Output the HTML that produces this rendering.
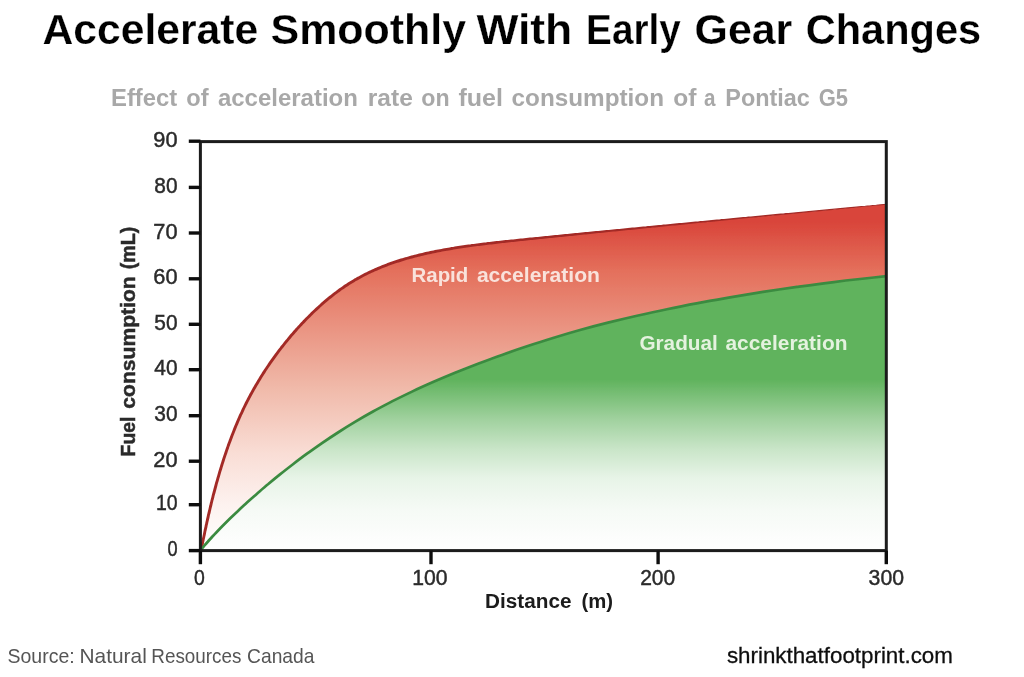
<!DOCTYPE html>
<html><head><meta charset="utf-8"><title>Accelerate Smoothly With Early Gear Changes</title>
<style>
html,body{margin:0;padding:0;background:#fff;}
body{width:1024px;height:677px;overflow:hidden;font-family:"Liberation Sans",sans-serif;}
svg{display:block;}
text{font-family:"Liberation Sans",sans-serif;}
</style></head>
<body>
<svg width="1024" height="677" viewBox="0 0 1024 677">
<defs>
<linearGradient id="rg" gradientUnits="userSpaceOnUse" x1="0" y1="204" x2="0" y2="550">
<stop offset="0" stop-color="#d9453a"/>
<stop offset="0.052" stop-color="#d9453a"/>
<stop offset="0.195" stop-color="#e4705c"/>
<stop offset="0.53" stop-color="#f0b9a9"/>
<stop offset="0.72" stop-color="#f9ddd5"/>
<stop offset="0.87" stop-color="#fdf2ef"/>
<stop offset="1" stop-color="#ffffff"/>
</linearGradient>
<linearGradient id="gg" gradientUnits="userSpaceOnUse" x1="0" y1="275" x2="0" y2="550">
<stop offset="0" stop-color="#60b35d"/>
<stop offset="0.38" stop-color="#60b35d"/>
<stop offset="0.524" stop-color="#a0d19e"/>
<stop offset="0.633" stop-color="#c9e5c8"/>
<stop offset="0.738" stop-color="#e7f4e7"/>
<stop offset="0.847" stop-color="#f5faf5"/>
<stop offset="0.953" stop-color="#fcfdfc"/>
<stop offset="1" stop-color="#ffffff"/>
</linearGradient>
<filter id="soft" x="-5%" y="-5%" width="110%" height="110%"><feGaussianBlur stdDeviation="0.45"/></filter>
</defs>
<rect width="1024" height="677" fill="#ffffff"/>
<g filter="url(#soft)">
<g font-size="42.8" font-weight="bold" fill="#000" stroke="#fff" stroke-width="0.25"><text x="42.5" y="43.9" textLength="215.6" lengthAdjust="spacingAndGlyphs">Accelerate</text><text x="270.5" y="43.9" textLength="195.6" lengthAdjust="spacingAndGlyphs">Smoothly</text><text x="476.4" y="43.9" textLength="95.9" lengthAdjust="spacingAndGlyphs">With</text><text x="586.1" y="43.9" textLength="94.6" lengthAdjust="spacingAndGlyphs">Early</text><text x="694.6" y="43.9" textLength="97.7" lengthAdjust="spacingAndGlyphs">Gear</text><text x="805.7" y="43.9" textLength="175.5" lengthAdjust="spacingAndGlyphs">Changes</text></g>
<g font-size="24.0" font-weight="bold" fill="#a8a8a8"><text x="111.0" y="105.9" textLength="66.2" lengthAdjust="spacingAndGlyphs">Effect</text><text x="186.3" y="105.9" textLength="22.3" lengthAdjust="spacingAndGlyphs">of</text><text x="217.9" y="105.9" textLength="140.0" lengthAdjust="spacingAndGlyphs">acceleration</text><text x="367.8" y="105.9" textLength="45.0" lengthAdjust="spacingAndGlyphs">rate</text><text x="421.3" y="105.9" textLength="28.3" lengthAdjust="spacingAndGlyphs">on</text><text x="458.5" y="105.9" textLength="44.5" lengthAdjust="spacingAndGlyphs">fuel</text><text x="511.6" y="105.9" textLength="152.4" lengthAdjust="spacingAndGlyphs">consumption</text><text x="673.2" y="105.9" textLength="23.2" lengthAdjust="spacingAndGlyphs">of</text><text x="704.1" y="105.9" textLength="11.5" lengthAdjust="spacingAndGlyphs">a</text><text x="725.3" y="105.9" textLength="84.6" lengthAdjust="spacingAndGlyphs">Pontiac</text><text x="818.7" y="105.9" textLength="29.3" lengthAdjust="spacingAndGlyphs">G5</text></g>
<path d="M200.4 550.6 C200.8 549.7 201.1 549.0 201.5 547.8 C202.0 546.2 202.5 543.1 203.0 540.7 C203.7 537.5 204.3 534.2 205.0 531.1 C206.0 526.4 207.0 521.8 208.0 517.4 C209.3 511.5 210.7 505.8 212.0 500.4 C213.7 493.8 215.3 487.4 217.0 481.5 C219.0 474.4 221.0 467.7 223.0 461.4 C225.3 454.1 227.7 447.3 230.0 441.0 C232.7 433.7 235.3 427.0 238.0 420.9 C241.0 413.9 244.0 407.6 247.0 401.7 C250.3 395.2 253.7 389.1 257.0 383.5 C260.7 377.3 264.3 371.6 268.0 366.1 C272.0 360.2 276.0 354.7 280.0 349.5 C284.3 343.8 288.7 338.5 293.0 333.5 C297.7 328.1 302.3 323.1 307.0 318.3 C312.0 313.3 317.0 308.5 322.0 304.1 C327.3 299.5 332.7 295.0 338.0 291.2 C343.7 287.0 349.3 283.2 355.0 280.0 C361.0 276.5 367.0 273.4 373.0 270.7 C379.3 267.8 385.7 265.3 392.0 263.1 C398.7 260.7 405.3 258.7 412.0 256.9 C419.0 255.0 426.0 253.4 433.0 252.0 C440.3 250.5 447.7 249.1 455.0 248.0 C462.7 246.7 470.3 245.7 478.0 244.7 C486.0 243.6 494.0 242.7 502.0 241.8 C510.3 240.9 518.7 240.1 527.0 239.2 C535.7 238.3 544.3 237.4 553.0 236.6 C562.0 235.7 571.0 234.8 580.0 233.8 C589.3 232.9 598.7 232.0 608.0 231.1 C617.7 230.1 627.3 229.1 637.0 228.2 C647.0 227.2 657.0 226.2 667.0 225.2 C677.3 224.2 687.7 223.2 698.0 222.2 C708.7 221.2 719.3 220.1 730.0 219.1 C741.0 218.1 752.0 217.0 763.0 216.0 C774.3 214.9 785.7 213.8 797.0 212.7 C808.7 211.6 820.3 210.5 832.0 209.4 C841.3 208.5 850.7 207.6 860.0 206.8 C868.8 205.9 877.5 205.1 886.3 204.3 L886.3 550.6 L200.4 550.6 Z" fill="url(#rg)"/>
<path d="M200.4 550.6 C200.8 550.1 201.1 549.6 201.5 549.1 C202.0 548.4 202.5 547.9 203.0 547.3 C203.7 546.4 204.3 545.7 205.0 544.9 C206.0 543.7 207.0 542.6 208.0 541.5 C209.3 540.0 210.7 538.5 212.0 537.0 C213.7 535.2 215.3 533.5 217.0 531.7 C219.0 529.6 221.0 527.5 223.0 525.5 C225.3 523.2 227.7 520.8 230.0 518.5 C232.7 515.9 235.3 513.4 238.0 510.9 C241.0 508.0 244.0 505.3 247.0 502.5 C250.3 499.5 253.7 496.6 257.0 493.7 C260.7 490.5 264.3 487.3 268.0 484.3 C272.0 480.9 276.0 477.6 280.0 474.4 C284.3 470.9 288.7 467.5 293.0 464.2 C297.7 460.6 302.3 457.1 307.0 453.7 C312.0 450.1 317.0 446.6 322.0 443.1 C327.3 439.5 332.7 435.9 338.0 432.5 C343.7 428.8 349.3 425.3 355.0 421.9 C361.0 418.3 367.0 414.8 373.0 411.5 C379.3 408.0 385.7 404.7 392.0 401.4 C398.7 398.0 405.3 394.8 412.0 391.6 C419.0 388.3 426.0 385.2 433.0 382.1 C440.3 378.9 447.7 375.8 455.0 372.8 C462.7 369.7 470.3 366.7 478.0 363.7 C486.0 360.7 494.0 357.7 502.0 354.9 C510.3 351.9 518.7 349.0 527.0 346.3 C535.7 343.4 544.3 340.6 553.0 338.0 C562.0 335.2 571.0 332.5 580.0 330.0 C589.3 327.4 598.7 324.9 608.0 322.6 C617.7 320.2 627.3 317.9 637.0 315.7 C647.0 313.4 657.0 311.2 667.0 309.2 C677.3 307.0 687.7 305.0 698.0 303.1 C708.7 301.1 719.3 299.1 730.0 297.3 C741.0 295.4 752.0 293.6 763.0 291.9 C774.3 290.2 785.7 288.5 797.0 286.9 C808.7 285.3 820.3 283.7 832.0 282.3 C841.3 281.1 850.7 280.0 860.0 279.0 C868.8 278.0 877.5 277.1 886.3 276.2 L886.3 550.6 L200.4 550.6 Z" fill="url(#gg)"/>
<path d="M199.2 549.8 L199.2 549.8 L199.2 549.8 L199.2 549.8 L199.2 549.8 L199.2 549.8 L199.2 549.7 L199.3 549.7 L199.3 549.6 L199.3 549.6 L199.4 549.5 L199.4 549.4 L199.5 549.2 L199.5 549.1 L199.6 548.9 L199.7 548.7 L199.7 548.5 L199.8 548.3 L199.9 548.0 L200.0 547.7 L200.1 547.4 L200.2 547.0 L200.3 546.6 L200.4 546.1 L200.6 545.5 L200.7 544.9 L200.8 544.2 L201.0 543.4 L201.1 542.7 L201.3 541.8 L201.5 541.0 L201.6 540.2 L201.8 539.3 L202.0 538.5 L202.2 537.6 L202.4 536.7 L202.6 535.7 L202.8 534.8 L203.0 533.8 L203.2 532.8 L203.4 531.7 L203.6 530.7 L203.8 529.6 L204.1 528.5 L204.3 527.4 L204.6 526.2 L204.8 525.1 L205.1 523.9 L205.3 522.7 L205.6 521.5 L205.9 520.2 L206.1 519.0 L206.4 517.7 L206.7 516.4 L207.0 515.1 L207.3 513.8 L207.6 512.5 L207.9 511.2 L208.3 509.8 L208.6 508.4 L208.9 507.0 L209.2 505.6 L209.6 504.2 L209.9 502.8 L210.3 501.4 L210.6 499.9 L211.0 498.5 L211.4 497.0 L211.7 495.6 L212.1 494.1 L212.5 492.6 L212.9 491.1 L213.3 489.6 L213.7 488.1 L214.1 486.6 L214.5 485.1 L214.9 483.6 L215.3 482.0 L215.8 480.5 L216.2 479.0 L216.6 477.5 L217.1 475.9 L217.5 474.4 L218.0 472.8 L218.4 471.2 L218.9 469.7 L219.4 468.1 L219.9 466.6 L220.3 465.0 L220.8 463.4 L221.3 461.9 L221.8 460.3 L222.3 458.7 L222.8 457.2 L223.4 455.6 L223.9 454.0 L224.4 452.5 L224.9 450.9 L225.5 449.3 L226.0 447.7 L226.6 446.2 L227.1 444.6 L227.7 443.0 L228.3 441.5 L228.8 439.9 L229.4 438.4 L230.0 436.8 L230.6 435.3 L231.2 433.7 L231.8 432.2 L232.4 430.7 L233.0 429.1 L233.6 427.6 L234.2 426.1 L234.9 424.6 L235.5 423.0 L236.1 421.5 L236.8 420.0 L237.4 418.6 L238.1 417.1 L238.7 415.6 L239.4 414.1 L240.1 412.7 L240.8 411.2 L241.4 409.7 L242.1 408.3 L242.8 406.9 L243.5 405.4 L244.2 404.0 L244.9 402.6 L245.7 401.1 L246.4 399.7 L247.1 398.3 L247.8 396.9 L248.6 395.5 L249.3 394.1 L250.1 392.8 L250.8 391.4 L251.6 390.0 L252.4 388.6 L253.1 387.3 L253.9 385.9 L254.7 384.6 L255.5 383.2 L256.3 381.9 L257.1 380.5 L257.9 379.2 L258.7 377.9 L259.5 376.6 L260.3 375.3 L261.2 373.9 L262.0 372.6 L262.8 371.3 L263.7 370.0 L264.5 368.7 L265.4 367.4 L266.2 366.2 L267.1 364.9 L268.0 363.6 L268.8 362.3 L269.7 361.1 L270.6 359.8 L271.5 358.5 L272.4 357.3 L273.3 356.0 L274.2 354.8 L275.1 353.5 L276.1 352.3 L277.0 351.0 L277.9 349.8 L278.9 348.6 L279.8 347.4 L280.7 346.1 L281.7 344.9 L282.7 343.7 L283.6 342.5 L284.6 341.3 L285.6 340.1 L286.6 338.9 L287.5 337.7 L288.5 336.5 L289.5 335.3 L290.5 334.1 L291.6 333.0 L292.6 331.8 L293.6 330.6 L294.6 329.5 L295.6 328.3 L296.7 327.2 L297.7 326.0 L298.8 324.9 L299.8 323.7 L300.9 322.6 L302.0 321.5 L303.0 320.3 L304.1 319.2 L305.2 318.1 L306.3 317.0 L307.4 315.9 L308.5 314.8 L309.6 313.7 L310.7 312.6 L311.8 311.6 L312.9 310.5 L314.0 309.4 L315.2 308.3 L316.3 307.3 L317.5 306.2 L318.6 305.2 L319.8 304.2 L320.9 303.1 L322.1 302.1 L323.3 301.1 L324.4 300.1 L325.6 299.1 L326.8 298.1 L328.0 297.1 L329.2 296.1 L330.4 295.2 L331.6 294.2 L332.8 293.2 L334.1 292.3 L335.3 291.4 L336.5 290.4 L337.8 289.5 L339.0 288.6 L340.3 287.8 L341.5 286.9 L342.8 286.0 L344.0 285.1 L345.3 284.3 L346.6 283.4 L347.9 282.6 L349.2 281.8 L350.5 281.0 L351.8 280.2 L353.1 279.4 L354.4 278.6 L355.7 277.9 L357.0 277.1 L358.4 276.4 L359.7 275.7 L361.0 274.9 L362.4 274.2 L363.7 273.5 L365.1 272.8 L366.5 272.2 L367.8 271.5 L369.2 270.8 L370.6 270.2 L372.0 269.5 L373.4 268.9 L374.7 268.3 L376.1 267.7 L377.6 267.1 L379.0 266.5 L380.4 265.9 L381.8 265.3 L383.2 264.8 L384.7 264.2 L386.1 263.7 L387.5 263.1 L389.0 262.6 L390.4 262.1 L391.9 261.6 L393.4 261.1 L394.8 260.6 L396.3 260.1 L397.8 259.6 L399.3 259.1 L400.8 258.6 L402.3 258.2 L403.8 257.7 L405.3 257.3 L406.8 256.9 L408.3 256.4 L409.9 256.0 L411.4 255.6 L412.9 255.2 L414.5 254.8 L416.0 254.4 L417.6 254.0 L419.1 253.6 L420.7 253.2 L422.2 252.9 L423.8 252.5 L425.4 252.1 L427.0 251.8 L428.6 251.4 L430.2 251.1 L431.8 250.8 L433.4 250.4 L435.0 250.1 L436.6 249.8 L438.2 249.5 L439.9 249.2 L441.5 248.9 L443.1 248.6 L444.8 248.3 L446.4 248.0 L448.1 247.7 L449.7 247.4 L451.4 247.1 L453.1 246.9 L454.8 246.6 L456.4 246.3 L458.1 246.1 L459.8 245.8 L461.5 245.6 L463.2 245.3 L464.9 245.1 L466.6 244.8 L468.4 244.6 L470.1 244.4 L471.8 244.1 L473.5 243.9 L475.3 243.7 L477.0 243.4 L478.8 243.2 L480.5 243.0 L482.3 242.8 L484.1 242.6 L485.8 242.4 L487.6 242.1 L489.4 241.9 L491.2 241.7 L493.0 241.5 L494.8 241.3 L496.6 241.1 L498.4 240.9 L500.2 240.7 L502.1 240.5 L503.9 240.3 L505.7 240.1 L507.6 239.9 L509.4 239.7 L511.2 239.5 L513.1 239.4 L515.0 239.2 L516.8 239.0 L518.7 238.8 L520.6 238.6 L522.5 238.4 L524.3 238.2 L526.2 238.0 L528.1 237.8 L530.0 237.6 L532.0 237.4 L533.9 237.3 L535.8 237.1 L537.7 236.9 L539.6 236.7 L541.6 236.5 L543.5 236.3 L545.5 236.1 L547.4 235.9 L549.4 235.7 L551.3 235.5 L553.3 235.3 L555.3 235.1 L557.3 234.9 L559.3 234.7 L561.3 234.5 L563.3 234.3 L565.3 234.1 L567.3 233.9 L569.3 233.7 L571.3 233.5 L573.3 233.3 L575.4 233.1 L577.4 232.9 L579.4 232.7 L581.5 232.5 L583.5 232.3 L585.6 232.1 L587.7 231.9 L589.7 231.7 L591.8 231.5 L593.9 231.3 L596.0 231.1 L598.1 230.9 L600.2 230.7 L602.3 230.5 L604.4 230.3 L606.5 230.1 L608.6 229.9 L610.7 229.7 L612.8 229.5 L615.0 229.3 L617.1 229.1 L619.3 228.9 L621.4 228.7 L623.6 228.5 L625.7 228.3 L627.9 228.0 L630.1 227.8 L632.3 227.6 L634.5 227.4 L636.6 227.2 L638.8 227.0 L641.0 226.8 L643.2 226.6 L645.5 226.4 L647.7 226.1 L649.9 225.9 L652.1 225.7 L654.4 225.5 L656.6 225.3 L658.9 225.1 L661.1 224.9 L663.4 224.6 L665.6 224.4 L667.9 224.2 L670.2 224.0 L672.4 223.8 L674.7 223.6 L677.0 223.3 L679.3 223.1 L681.6 222.9 L683.9 222.7 L686.2 222.5 L688.5 222.3 L690.9 222.0 L693.2 221.8 L695.5 221.6 L697.9 221.4 L700.2 221.1 L702.6 220.9 L704.9 220.7 L707.3 220.5 L709.6 220.3 L712.0 220.0 L714.4 219.8 L716.8 219.6 L719.2 219.4 L721.6 219.1 L724.0 218.9 L726.4 218.7 L728.8 218.5 L731.2 218.2 L733.6 218.0 L736.0 217.8 L738.5 217.5 L740.9 217.3 L743.4 217.1 L745.8 216.9 L748.3 216.6 L750.7 216.4 L753.2 216.2 L755.7 215.9 L758.1 215.7 L760.6 215.5 L763.1 215.2 L765.6 215.0 L768.1 214.8 L770.6 214.5 L773.1 214.3 L775.6 214.1 L778.2 213.8 L780.7 213.6 L783.2 213.4 L785.8 213.1 L788.3 212.9 L790.8 212.7 L793.4 212.4 L796.0 212.2 L798.5 212.0 L801.1 211.7 L803.7 211.5 L806.3 211.2 L808.8 211.0 L811.4 210.8 L814.0 210.5 L816.6 210.3 L819.2 210.0 L821.9 209.8 L824.5 209.5 L827.1 209.3 L829.7 209.1 L832.4 208.8 L835.0 208.6 L837.7 208.3 L840.3 208.1 L843.0 207.8 L845.6 207.6 L848.3 207.3 L851.0 207.1 L853.7 206.8 L856.3 206.6 L859.0 206.3 L861.7 206.1 L864.4 205.9 L867.1 205.6 L869.9 205.4 L872.6 205.1 L875.3 204.9 L878.0 204.6 L880.8 204.3 L883.5 204.1 L886.3 203.8 L886.3 204.7 L883.6 205.0 L880.9 205.3 L878.1 205.5 L875.4 205.8 L872.7 206.0 L869.9 206.3 L867.2 206.6 L864.5 206.8 L861.8 207.1 L859.1 207.3 L856.4 207.6 L853.8 207.9 L851.1 208.1 L848.4 208.4 L845.7 208.6 L843.1 208.9 L840.4 209.1 L837.8 209.4 L835.1 209.6 L832.5 209.9 L829.8 210.2 L827.2 210.4 L824.6 210.7 L822.0 210.9 L819.3 211.2 L816.7 211.4 L814.1 211.7 L811.5 211.9 L808.9 212.2 L806.4 212.4 L803.8 212.7 L801.2 212.9 L798.6 213.2 L796.1 213.4 L793.5 213.7 L791.0 213.9 L788.4 214.2 L785.9 214.4 L783.3 214.7 L780.8 214.9 L778.3 215.2 L775.8 215.4 L773.2 215.6 L770.7 215.9 L768.2 216.1 L765.7 216.4 L763.2 216.6 L760.8 216.9 L758.3 217.1 L755.8 217.4 L753.3 217.6 L750.9 217.8 L748.4 218.1 L746.0 218.3 L743.5 218.6 L741.1 218.8 L738.6 219.0 L736.2 219.3 L733.8 219.5 L731.3 219.8 L728.9 220.0 L726.5 220.2 L724.1 220.5 L721.7 220.7 L719.3 221.0 L716.9 221.2 L714.6 221.4 L712.2 221.7 L709.8 221.9 L707.4 222.1 L705.1 222.4 L702.7 222.6 L700.4 222.8 L698.0 223.1 L695.7 223.3 L693.4 223.5 L691.0 223.8 L688.7 224.0 L686.4 224.2 L684.1 224.5 L681.8 224.7 L679.5 224.9 L677.2 225.2 L674.9 225.4 L672.6 225.6 L670.3 225.8 L668.1 226.1 L665.8 226.3 L663.5 226.5 L661.3 226.7 L659.0 227.0 L656.8 227.2 L654.6 227.4 L652.3 227.6 L650.1 227.9 L647.9 228.1 L645.7 228.3 L643.4 228.5 L641.2 228.8 L639.0 229.0 L636.8 229.2 L634.7 229.4 L632.5 229.7 L630.3 229.9 L628.1 230.1 L625.9 230.3 L623.8 230.5 L621.6 230.8 L619.5 231.0 L617.3 231.2 L615.2 231.4 L613.1 231.6 L610.9 231.8 L608.8 232.1 L606.7 232.3 L604.6 232.5 L602.5 232.7 L600.4 232.9 L598.3 233.1 L596.2 233.3 L594.1 233.6 L592.0 233.8 L589.9 234.0 L587.9 234.2 L585.8 234.4 L583.8 234.6 L581.7 234.8 L579.7 235.0 L577.6 235.3 L575.6 235.5 L573.6 235.7 L571.5 235.9 L569.5 236.1 L567.5 236.3 L565.5 236.5 L563.5 236.7 L561.5 236.9 L559.5 237.1 L557.5 237.3 L555.5 237.5 L553.6 237.7 L551.6 237.9 L549.6 238.1 L547.7 238.3 L545.7 238.5 L543.8 238.7 L541.8 238.9 L539.9 239.1 L538.0 239.3 L536.0 239.5 L534.1 239.7 L532.2 239.9 L530.3 240.1 L528.4 240.3 L526.5 240.5 L524.6 240.7 L522.7 240.9 L520.8 241.1 L519.0 241.3 L517.1 241.5 L515.2 241.7 L513.4 241.9 L511.5 242.1 L509.7 242.3 L507.8 242.5 L506.0 242.7 L504.2 242.9 L502.3 243.1 L500.5 243.3 L498.7 243.5 L496.9 243.7 L495.1 243.9 L493.3 244.2 L491.5 244.4 L489.7 244.6 L487.9 244.8 L486.2 245.0 L484.4 245.2 L482.6 245.4 L480.9 245.7 L479.1 245.9 L477.4 246.1 L475.6 246.3 L473.9 246.6 L472.2 246.8 L470.5 247.1 L468.7 247.3 L467.0 247.5 L465.3 247.8 L463.6 248.0 L461.9 248.3 L460.2 248.6 L458.5 248.8 L456.9 249.1 L455.2 249.3 L453.5 249.6 L451.9 249.9 L450.2 250.2 L448.6 250.5 L446.9 250.8 L445.3 251.0 L443.6 251.3 L442.0 251.6 L440.4 252.0 L438.8 252.3 L437.2 252.6 L435.5 252.9 L433.9 253.2 L432.4 253.6 L430.8 253.9 L429.2 254.2 L427.6 254.6 L426.0 254.9 L424.5 255.3 L422.9 255.7 L421.4 256.0 L419.8 256.4 L418.3 256.8 L416.7 257.2 L415.2 257.6 L413.7 258.0 L412.1 258.4 L410.6 258.8 L409.1 259.2 L407.6 259.6 L406.1 260.1 L404.6 260.5 L403.1 261.0 L401.6 261.4 L400.2 261.9 L398.7 262.4 L397.2 262.8 L395.8 263.3 L394.3 263.8 L392.9 264.3 L391.4 264.8 L390.0 265.3 L388.5 265.8 L387.1 266.4 L385.7 266.9 L384.3 267.5 L382.9 268.0 L381.5 268.6 L380.1 269.2 L378.7 269.8 L377.3 270.4 L375.9 271.0 L374.5 271.6 L373.2 272.2 L371.8 272.8 L370.4 273.4 L369.1 274.1 L367.7 274.8 L366.4 275.4 L365.1 276.1 L363.7 276.8 L362.4 277.5 L361.1 278.2 L359.8 278.9 L358.5 279.7 L357.1 280.4 L355.8 281.1 L354.6 281.9 L353.3 282.7 L352.0 283.4 L350.7 284.2 L349.4 285.1 L348.2 285.9 L346.9 286.7 L345.7 287.5 L344.4 288.4 L343.2 289.3 L341.9 290.1 L340.7 291.0 L339.5 291.9 L338.2 292.8 L337.0 293.7 L335.8 294.6 L334.6 295.5 L333.4 296.5 L332.2 297.4 L331.0 298.4 L329.8 299.3 L328.7 300.3 L327.5 301.3 L326.3 302.3 L325.1 303.3 L324.0 304.3 L322.8 305.3 L321.7 306.3 L320.5 307.3 L319.4 308.4 L318.3 309.4 L317.2 310.5 L316.0 311.5 L314.9 312.6 L313.8 313.6 L312.7 314.7 L311.6 315.8 L310.5 316.9 L309.4 318.0 L308.3 319.1 L307.3 320.1 L306.2 321.2 L305.1 322.4 L304.1 323.5 L303.0 324.6 L302.0 325.7 L300.9 326.8 L299.9 328.0 L298.8 329.1 L297.8 330.2 L296.8 331.4 L295.8 332.5 L294.8 333.7 L293.7 334.9 L292.7 336.0 L291.7 337.2 L290.8 338.4 L289.8 339.5 L288.8 340.7 L287.8 341.9 L286.9 343.1 L285.9 344.3 L284.9 345.5 L284.0 346.7 L283.0 347.9 L282.1 349.1 L281.2 350.3 L280.2 351.6 L279.3 352.8 L278.4 354.0 L277.5 355.2 L276.6 356.5 L275.7 357.7 L274.8 359.0 L273.9 360.2 L273.0 361.5 L272.1 362.7 L271.2 364.0 L270.4 365.2 L269.5 366.5 L268.6 367.8 L267.8 369.1 L266.9 370.3 L266.1 371.6 L265.3 372.9 L264.4 374.2 L263.6 375.5 L262.8 376.8 L262.0 378.1 L261.2 379.4 L260.4 380.7 L259.6 382.0 L258.8 383.4 L258.0 384.7 L257.2 386.0 L256.4 387.4 L255.7 388.7 L254.9 390.1 L254.1 391.4 L253.4 392.8 L252.6 394.2 L251.9 395.5 L251.1 396.9 L250.4 398.3 L249.7 399.7 L249.0 401.1 L248.2 402.5 L247.5 403.9 L246.8 405.3 L246.1 406.7 L245.4 408.1 L244.7 409.6 L244.1 411.0 L243.4 412.4 L242.7 413.9 L242.0 415.3 L241.4 416.8 L240.7 418.3 L240.1 419.7 L239.4 421.2 L238.8 422.7 L238.2 424.2 L237.5 425.7 L236.9 427.2 L236.3 428.7 L235.7 430.2 L235.1 431.7 L234.5 433.3 L233.9 434.8 L233.3 436.3 L232.7 437.9 L232.1 439.4 L231.6 440.9 L231.0 442.5 L230.4 444.0 L229.9 445.6 L229.3 447.1 L228.8 448.7 L228.2 450.3 L227.7 451.8 L227.2 453.4 L226.6 454.9 L226.1 456.5 L225.6 458.1 L225.1 459.6 L224.6 461.2 L224.1 462.7 L223.6 464.3 L223.1 465.9 L222.6 467.4 L222.2 469.0 L221.7 470.5 L221.2 472.1 L220.8 473.6 L220.3 475.2 L219.9 476.7 L219.4 478.3 L219.0 479.8 L218.6 481.3 L218.1 482.8 L217.7 484.3 L217.3 485.9 L216.9 487.4 L216.5 488.9 L216.1 490.4 L215.7 491.9 L215.3 493.4 L214.9 494.8 L214.5 496.3 L214.2 497.8 L213.8 499.2 L213.4 500.6 L213.1 502.1 L212.7 503.5 L212.4 504.9 L212.1 506.3 L211.7 507.7 L211.4 509.1 L211.1 510.5 L210.8 511.8 L210.5 513.2 L210.1 514.5 L209.8 515.8 L209.6 517.1 L209.3 518.4 L209.0 519.6 L208.7 520.9 L208.4 522.1 L208.2 523.3 L207.9 524.5 L207.6 525.7 L207.4 526.9 L207.2 528.0 L206.9 529.1 L206.7 530.2 L206.4 531.3 L206.2 532.3 L206.0 533.4 L205.8 534.4 L205.6 535.4 L205.4 536.3 L205.2 537.3 L205.0 538.2 L204.8 539.1 L204.6 539.9 L204.5 540.8 L204.3 541.6 L204.1 542.4 L204.0 543.2 L203.8 544.0 L203.7 544.8 L203.5 545.5 L203.4 546.1 L203.3 546.7 L203.1 547.3 L203.0 547.8 L202.9 548.2 L202.8 548.6 L202.7 548.9 L202.6 549.2 L202.5 549.5 L202.4 549.8 L202.3 550.0 L202.2 550.2 L202.1 550.4 L202.1 550.5 L202.0 550.7 L201.9 550.8 L201.9 550.9 L201.8 551.0 L201.8 551.1 L201.7 551.2 L201.7 551.3 L201.7 551.3 L201.6 551.3 L201.6 551.4 L201.6 551.4Z" fill="#a32a26"/>
<path d="M200.4 550.6 C200.8 550.1 201.1 549.6 201.5 549.1 C202.0 548.4 202.5 547.9 203.0 547.3 C203.7 546.4 204.3 545.7 205.0 544.9 C206.0 543.7 207.0 542.6 208.0 541.5 C209.3 540.0 210.7 538.5 212.0 537.0 C213.7 535.2 215.3 533.5 217.0 531.7 C219.0 529.6 221.0 527.5 223.0 525.5 C225.3 523.2 227.7 520.8 230.0 518.5 C232.7 515.9 235.3 513.4 238.0 510.9 C241.0 508.0 244.0 505.3 247.0 502.5 C250.3 499.5 253.7 496.6 257.0 493.7 C260.7 490.5 264.3 487.3 268.0 484.3 C272.0 480.9 276.0 477.6 280.0 474.4 C284.3 470.9 288.7 467.5 293.0 464.2 C297.7 460.6 302.3 457.1 307.0 453.7 C312.0 450.1 317.0 446.6 322.0 443.1 C327.3 439.5 332.7 435.9 338.0 432.5 C343.7 428.8 349.3 425.3 355.0 421.9 C361.0 418.3 367.0 414.8 373.0 411.5 C379.3 408.0 385.7 404.7 392.0 401.4 C398.7 398.0 405.3 394.8 412.0 391.6 C419.0 388.3 426.0 385.2 433.0 382.1 C440.3 378.9 447.7 375.8 455.0 372.8 C462.7 369.7 470.3 366.7 478.0 363.7 C486.0 360.7 494.0 357.7 502.0 354.9 C510.3 351.9 518.7 349.0 527.0 346.3 C535.7 343.4 544.3 340.6 553.0 338.0 C562.0 335.2 571.0 332.5 580.0 330.0 C589.3 327.4 598.7 324.9 608.0 322.6 C617.7 320.2 627.3 317.9 637.0 315.7 C647.0 313.4 657.0 311.2 667.0 309.2 C677.3 307.0 687.7 305.0 698.0 303.1 C708.7 301.1 719.3 299.1 730.0 297.3 C741.0 295.4 752.0 293.6 763.0 291.9 C774.3 290.2 785.7 288.5 797.0 286.9 C808.7 285.3 820.3 283.7 832.0 282.3 C841.3 281.1 850.7 280.0 860.0 279.0 C868.8 278.0 877.5 277.1 886.3 276.2" fill="none" stroke="#3b8b41" stroke-width="2.7"/>
<rect x="200.4" y="141.6" width="685.9" height="409.0" fill="none" stroke="#1d1d1d" stroke-width="3"/>
<g stroke="#111" stroke-width="3.4"><line x1="188.8" x2="200.4" y1="550.6" y2="550.6"/><line x1="188.8" x2="200.4" y1="504.7" y2="504.7"/><line x1="188.8" x2="200.4" y1="461.2" y2="461.2"/><line x1="188.8" x2="200.4" y1="415.7" y2="415.7"/><line x1="188.8" x2="200.4" y1="369.7" y2="369.7"/><line x1="188.8" x2="200.4" y1="324.3" y2="324.3"/><line x1="188.8" x2="200.4" y1="278.8" y2="278.8"/><line x1="188.8" x2="200.4" y1="233.0" y2="233.0"/><line x1="188.8" x2="200.4" y1="187.4" y2="187.4"/><line x1="188.8" x2="200.4" y1="141.2" y2="141.2"/><line x1="200.4" x2="200.4" y1="550.6" y2="564.2"/><line x1="431.0" x2="431.0" y1="550.6" y2="564.2"/><line x1="658.1" x2="658.1" y1="550.6" y2="564.2"/><line x1="886.3" x2="886.3" y1="550.6" y2="564.2"/></g>
<g font-size="21.5" fill="#2a2a2a" stroke="#2a2a2a" stroke-width="0.45"><text x="167.6" y="556.1" textLength="10.1" lengthAdjust="spacingAndGlyphs">0</text><text x="155.9" y="510.2" textLength="21.6" lengthAdjust="spacingAndGlyphs">10</text><text x="153.3" y="466.7" textLength="24.2" lengthAdjust="spacingAndGlyphs">20</text><text x="154.3" y="421.2" textLength="23.2" lengthAdjust="spacingAndGlyphs">30</text><text x="154.3" y="375.2" textLength="23.2" lengthAdjust="spacingAndGlyphs">40</text><text x="154.3" y="329.8" textLength="23.2" lengthAdjust="spacingAndGlyphs">50</text><text x="153.3" y="284.3" textLength="24.2" lengthAdjust="spacingAndGlyphs">60</text><text x="153.3" y="238.5" textLength="24.2" lengthAdjust="spacingAndGlyphs">70</text><text x="154.3" y="192.9" textLength="23.2" lengthAdjust="spacingAndGlyphs">80</text><text x="153.3" y="146.7" textLength="24.2" lengthAdjust="spacingAndGlyphs">90</text><text x="194.0" y="584.5" textLength="10.8" lengthAdjust="spacingAndGlyphs">0</text><text x="412.2" y="584.5" textLength="35.3" lengthAdjust="spacingAndGlyphs">100</text><text x="640.2" y="584.5" textLength="35.0" lengthAdjust="spacingAndGlyphs">200</text><text x="868.6" y="584.5" textLength="35.4" lengthAdjust="spacingAndGlyphs">300</text></g>
<g font-size="20" font-weight="bold" fill="#f9e2db"><text x="411.5" y="282.3" textLength="56.8" lengthAdjust="spacingAndGlyphs">Rapid</text><text x="476.9" y="282.3" textLength="123.1" lengthAdjust="spacingAndGlyphs">acceleration</text></g>
<g font-size="20" font-weight="bold" fill="#e4f2df"><text x="639.4" y="350.4" textLength="78.4" lengthAdjust="spacingAndGlyphs">Gradual</text><text x="725.5" y="350.4" textLength="121.9" lengthAdjust="spacingAndGlyphs">acceleration</text></g>
<g font-size="19.6" font-weight="bold" fill="#1a1a1a"><text x="485.1" y="607.6" textLength="86.4" lengthAdjust="spacingAndGlyphs">Distance</text><text x="581.4" y="607.6" textLength="31.6" lengthAdjust="spacingAndGlyphs">(m)</text></g>
<g font-size="21" fill="#555"><text x="7.5" y="662.8" textLength="67.2" lengthAdjust="spacingAndGlyphs">Source:</text><text x="79.5" y="662.8" textLength="67.3" lengthAdjust="spacingAndGlyphs">Natural</text><text x="151.3" y="662.8" textLength="90.1" lengthAdjust="spacingAndGlyphs">Resources</text><text x="247.1" y="662.8" textLength="67.3" lengthAdjust="spacingAndGlyphs">Canada</text></g>
<g font-size="22" fill="#111" stroke="#111" stroke-width="0.3"><text x="726.9" y="663.0" textLength="226.0" lengthAdjust="spacingAndGlyphs">shrinkthatfootprint.com</text></g>
</g>
<g transform="translate(135.2,465.5) rotate(-90)" font-size="20" font-weight="bold" fill="#1a1a1a" stroke="#1a1a1a" stroke-width="0.5" opacity="0.93"><text x="9.1" y="0.0" textLength="39.8" lengthAdjust="spacingAndGlyphs">Fuel</text><text x="56.8" y="0.0" textLength="132.4" lengthAdjust="spacingAndGlyphs">consumption</text><text x="196.3" y="0.0" textLength="42.5" lengthAdjust="spacingAndGlyphs">(mL)</text></g>
</svg>
</body></html>
